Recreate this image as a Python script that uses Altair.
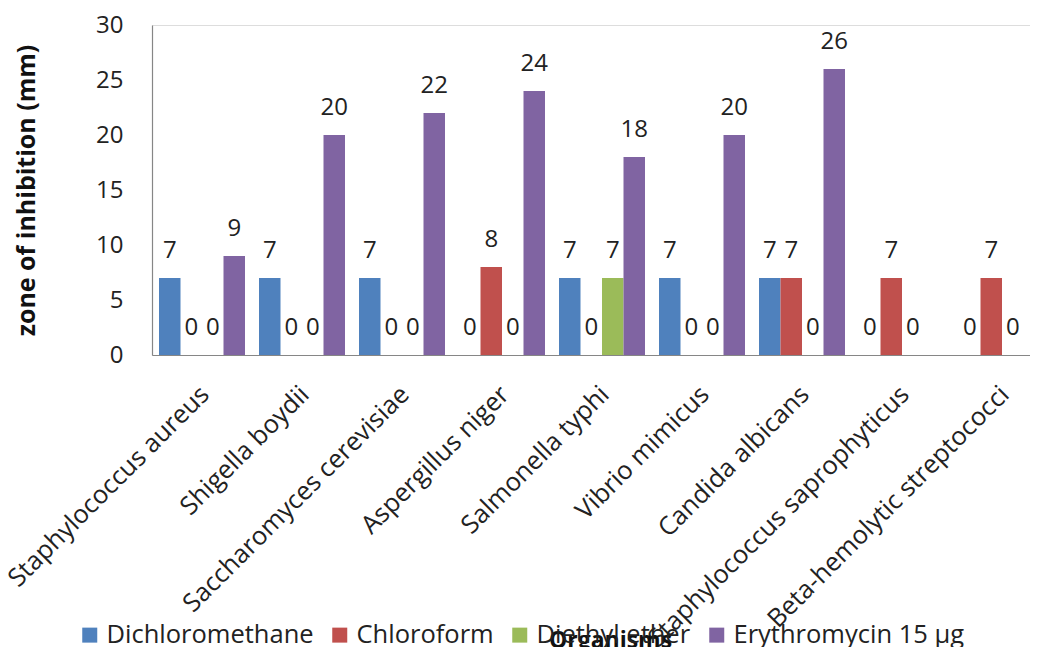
import altair as alt
import pandas as pd

organisms = [
    "Staphylococcus aureus",
    "Shigella boydii",
    "Saccharomyces cerevisiae",
    "Aspergillus niger",
    "Salmonella typhi",
    "Vibrio mimicus",
    "Candida albicans",
    "Staphylococcus saprophyticus",
    "Beta-hemolytic streptococci",
]
series = ["Dichloromethane", "Chloroform", "Diethyl ether", "Erythromycin 15 µg"]
dichloromethane = [7, 7, 7, 0, 7, 7, 7, 0, 0]
chloroform = [0, 0, 0, 8, 0, 0, 7, 7, 7]
diethyl_ether = [0, 0, 0, 0, 7, 0, 0, 0, 0]
erythromycin = [9, 20, 22, 24, 18, 20, 26, None, None]
colors = ["#4F81BD", "#C0504D", "#9BBB59", "#8064A2"]

rows = []
for s, vals in zip(series, [dichloromethane, chloroform, diethyl_ether, erythromycin]):
    for o, v in zip(organisms, vals):
        rows.append({"organism": o, "series": s, "value": v})
df = pd.DataFrame(rows)

FONT = "Open Sans"

x_enc = alt.X(
    "organism:N",
    sort=organisms,
    scale=alt.Scale(range=[0, 900], paddingInner=0.14, paddingOuter=0.07),
    axis=alt.Axis(
        title="Organisms",
        titleFont=FONT,
        titleFontSize=23,
        titleFontWeight="bold",
        titleColor="#111",
        titleX=458,
        titleY=292,
        titleAnchor="start",
        titleAlign="center",
        titleBaseline="alphabetic",
        labelAngle=-45,
        labelAlign="right",
        labelBaseline="middle",
        labelFont=FONT,
        labelFontSize=25.5,
        labelColor="#222",
        labelPadding=35,
        labelOffset=3,
        labelLimit=0,
        labelOverlap=False,
        ticks=False,
        tickSize=0,
        domainColor="#868686",
        domainWidth=1.2,
        grid=False,
    ),
)
xoff = alt.XOffset("series:N", sort=series, scale=alt.Scale(paddingInner=0, paddingOuter=0))
y_enc = alt.Y(
    "value:Q",
    scale=alt.Scale(domain=[0, 30], nice=False),
    axis=alt.Axis(
        title="zone of inhibition (mm)",
        titleFont=FONT,
        titleFontSize=25,
        titleFontWeight="bold",
        titleColor="#111",
        titleAngle=-90,
        titleX=-126,
        titleY=165,
        titleAlign="center",
        titleBaseline="middle",
        values=[0, 5, 10, 15, 20, 25, 30],
        labelFont=FONT,
        labelFontSize=24,
        labelColor="#222",
        labelPadding=29,
        ticks=False,
        tickSize=0,
        domainColor="#868686",
        domainWidth=1.2,
        grid=False,
    ),
)

bars = alt.Chart(df).mark_bar().encode(
    x=x_enc,
    xOffset=xoff,
    y=y_enc,
    color=alt.Color(
        "series:N",
        sort=series,
        scale=alt.Scale(domain=series, range=colors),
        legend=alt.Legend(
            title=None,
            orient="none",
            direction="horizontal",
            legendX=-75,
            legendY=597,
            symbolType="square",
            symbolSize=225,
            symbolStrokeWidth=0,
            symbolOpacity=1,
            labelFont=FONT,
            labelFontSize=25.5,
            labelColor="#222",
            labelOffset=4,
            columnPadding=13,
            labelLimit=0,
        ),
    ),
)

labels = alt.Chart(df).transform_filter("datum.value != null").mark_text(
    font=FONT, fontSize=24, color="#222", baseline="alphabetic", align="center", dy=-20
).encode(
    x=alt.X("organism:N", sort=organisms),
    xOffset=xoff,
    y=alt.Y("value:Q"),
    text=alt.Text("value:Q"),
)

chart = (
    alt.layer(bars, labels)
    .properties(
        width=878,
        height=330,
        autosize=alt.AutoSizeParams(type="none"),
        padding={"left": 144, "top": 17, "right": 0, "bottom": 292},
    )
    .configure_view(stroke=None)
    .configure(background="white")
)

chart.save("out.html", embed_options={"renderer": "svg", "actions": False})
